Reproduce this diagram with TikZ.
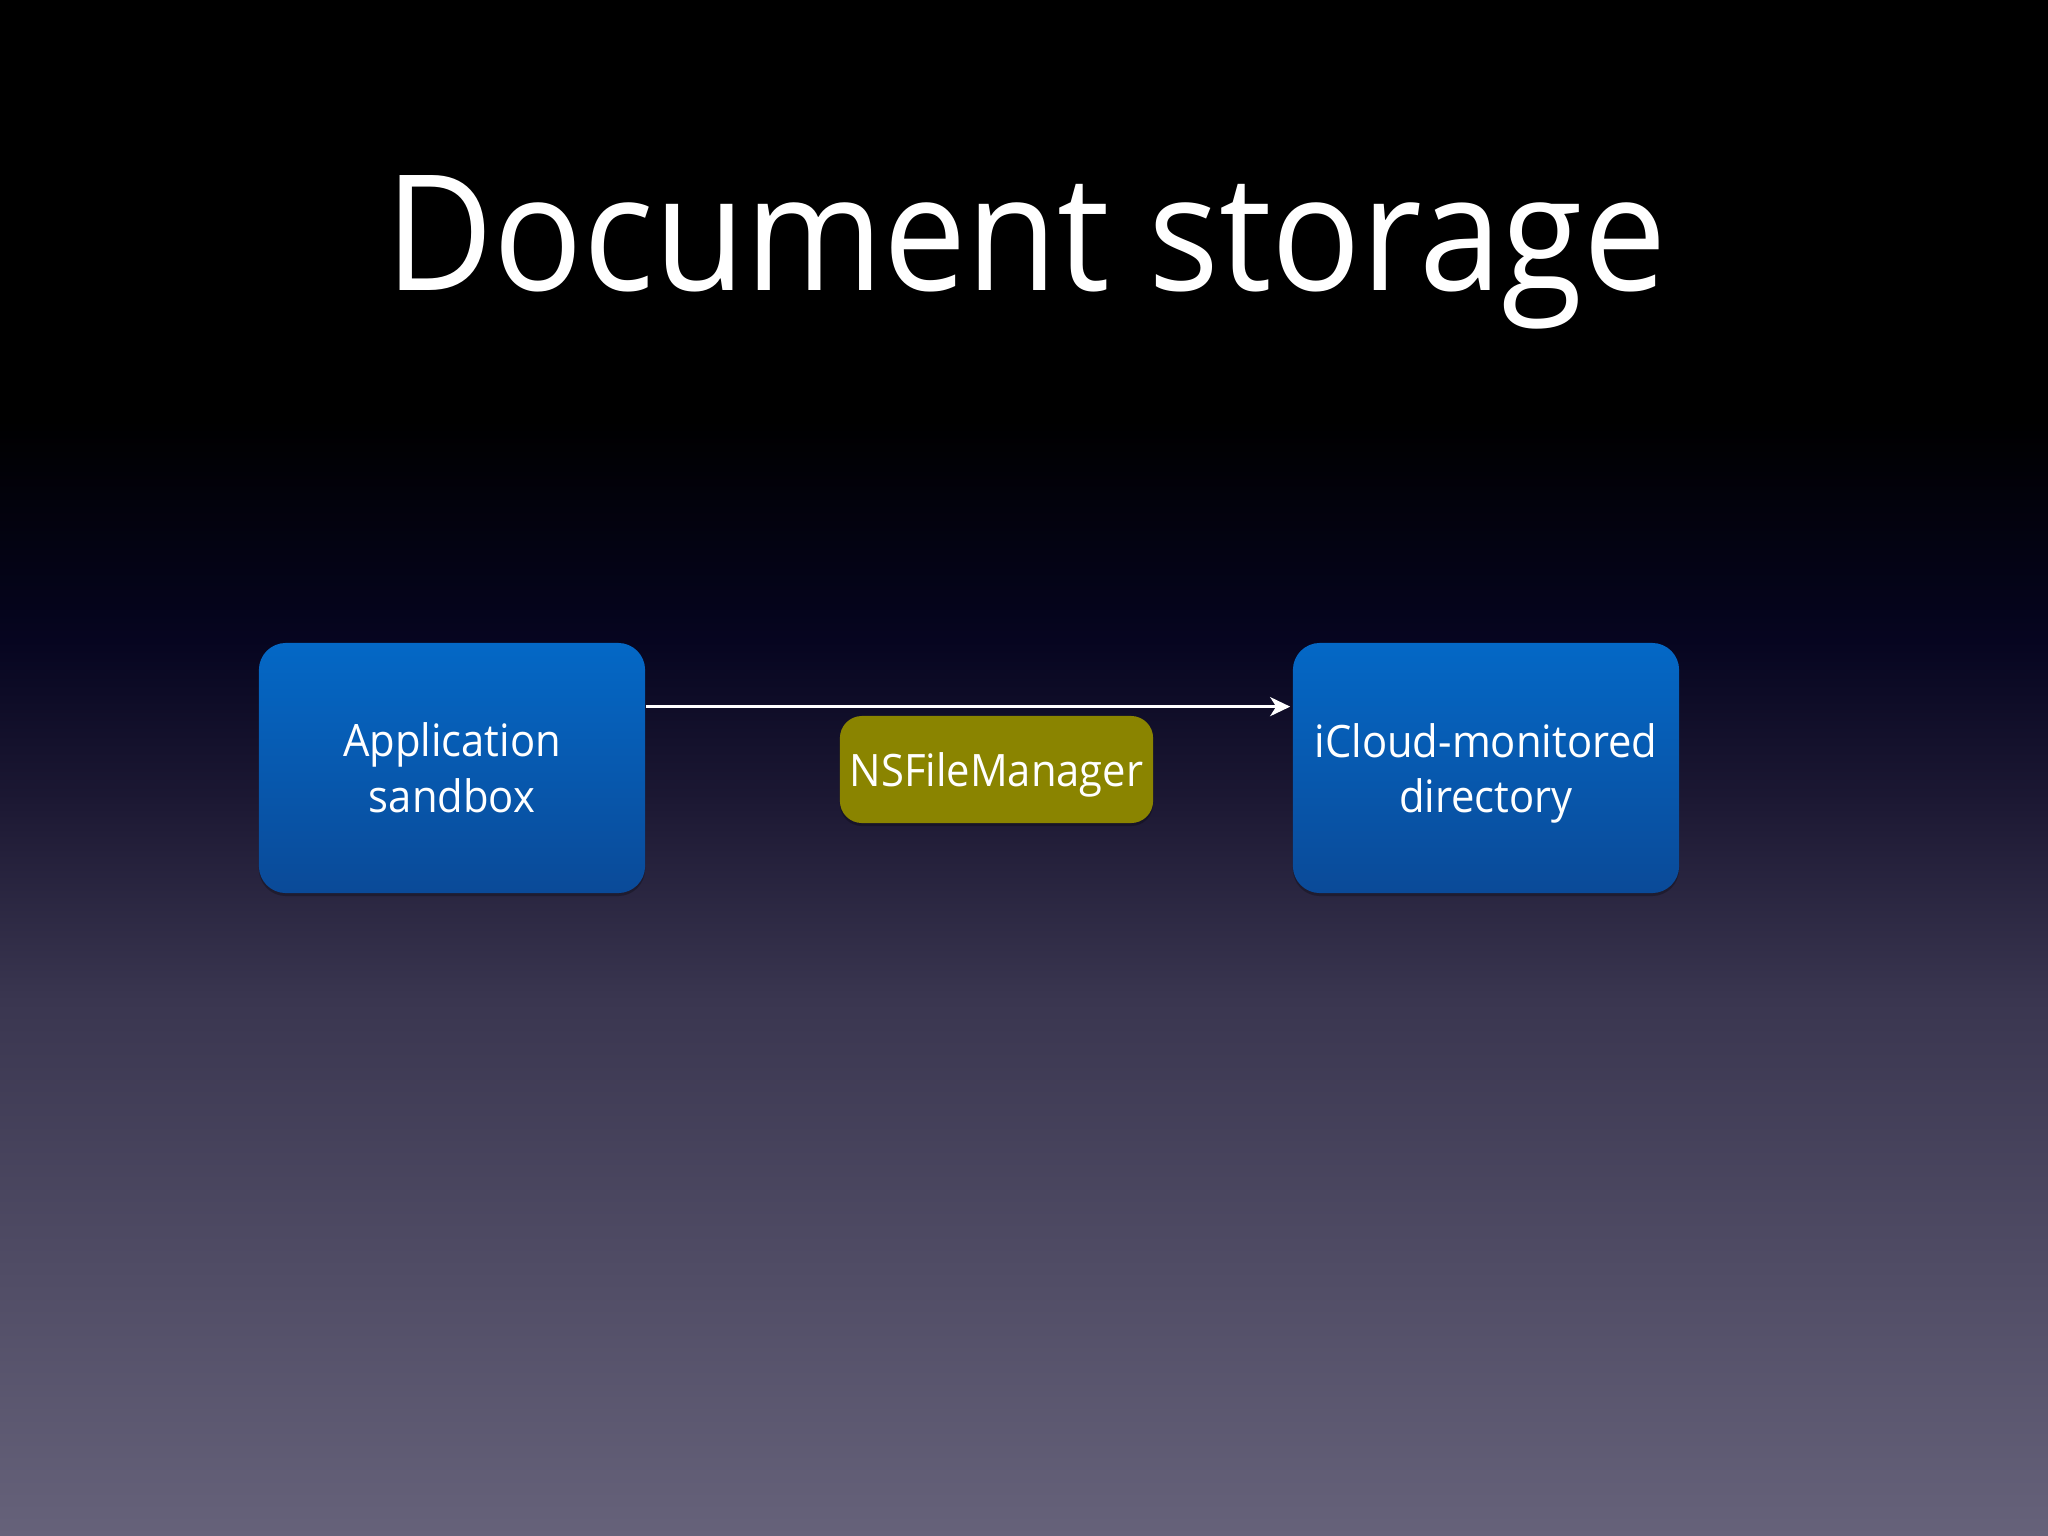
\documentclass[tikz,border=0pt]{standalone}
\usepackage{fontspec}
\setmainfont{Open Sans}
\newfontfamily\titlefont[FakeStretch=0.922]{Open Sans}
\newfontfamily\bodyfont[FakeStretch=0.935]{Open Sans}
\usetikzlibrary{arrows.meta,calc,shadows}
\definecolor{bgA}{HTML}{000000}
\definecolor{bgB}{HTML}{060520}
\definecolor{bgC}{HTML}{1C1833}
\definecolor{bgD}{HTML}{3A3650}
\definecolor{bgE}{HTML}{66627A}
\definecolor{boxtop}{HTML}{0468C6}
\definecolor{boxbot}{HTML}{0A4A98}
\definecolor{olive}{HTML}{8A8400}
\tikzset{
  bluebox/.style={rounded corners=0.27cm, top color=boxtop, bottom color=boxbot, draw=none,
    minimum width=3.86cm, minimum height=2.5cm, align=center, text=white, inner sep=0pt,
    font=\bodyfont\fontsize{12.7pt}{15.9pt}\selectfont,
    drop shadow={shadow xshift=0pt, shadow yshift=-0.03cm, opacity=0.25, fill=black}},
  olivebox/.style={rounded corners=0.22cm, fill=olive, draw=none,
    minimum width=3.13cm, minimum height=1.07cm, align=center, text=white, inner sep=0pt,
    text depth=0pt,
    font=\bodyfont\fontsize{12.7pt}{15.9pt}\selectfont,
    drop shadow={shadow xshift=0pt, shadow yshift=-0.03cm, opacity=0.25, fill=black}},
  titletext/.style={text=white, inner sep=0pt, font=\titlefont\fontsize{45.8pt}{55pt}\selectfont},
  arrowline/.style={draw=white, line width=0.03cm, -{Stealth[length=0.2cm, width=0.19cm, inset=0.06cm]}, shorten >=0.02cm}
}
\begin{document}
\begin{tikzpicture}[x=0.01cm, y=-0.01cm]
  \useasboundingbox (0,0) rectangle (2048,1536);
  % background
  \fill[bgA] (0,-1) rectangle (2048,421);
  \shade[top color=bgA, bottom color=bgB] (0,420) rectangle (2048,641);
  \shade[top color=bgB, bottom color=bgC] (0,640) rectangle (2048,801);
  \shade[top color=bgC, bottom color=bgD] (0,800) rectangle (2048,1001);
  \shade[top color=bgD, bottom color=bgE] (0,1000) rectangle (2048,1537);
  % title
  \node[titletext, anchor=base] (title) at (1026,290) {Document storage};
  % boxes
  \node[bluebox] (app) at (452,768) {Application\\sandbox};
  \node[bluebox] (icloud) at (1486,768) {iCloud-monitored\\\raisebox{0pt}[\height][0pt]{directory}};
  \node[olivebox] (nsfm) at (996.5,769.5) {NSFileManager};
  % arrow
  \draw[arrowline] ($(app.north east)!0.256!(app.south east)$) -- ($(icloud.north west)!0.256!(icloud.south west)$);
\end{tikzpicture}
\end{document}
